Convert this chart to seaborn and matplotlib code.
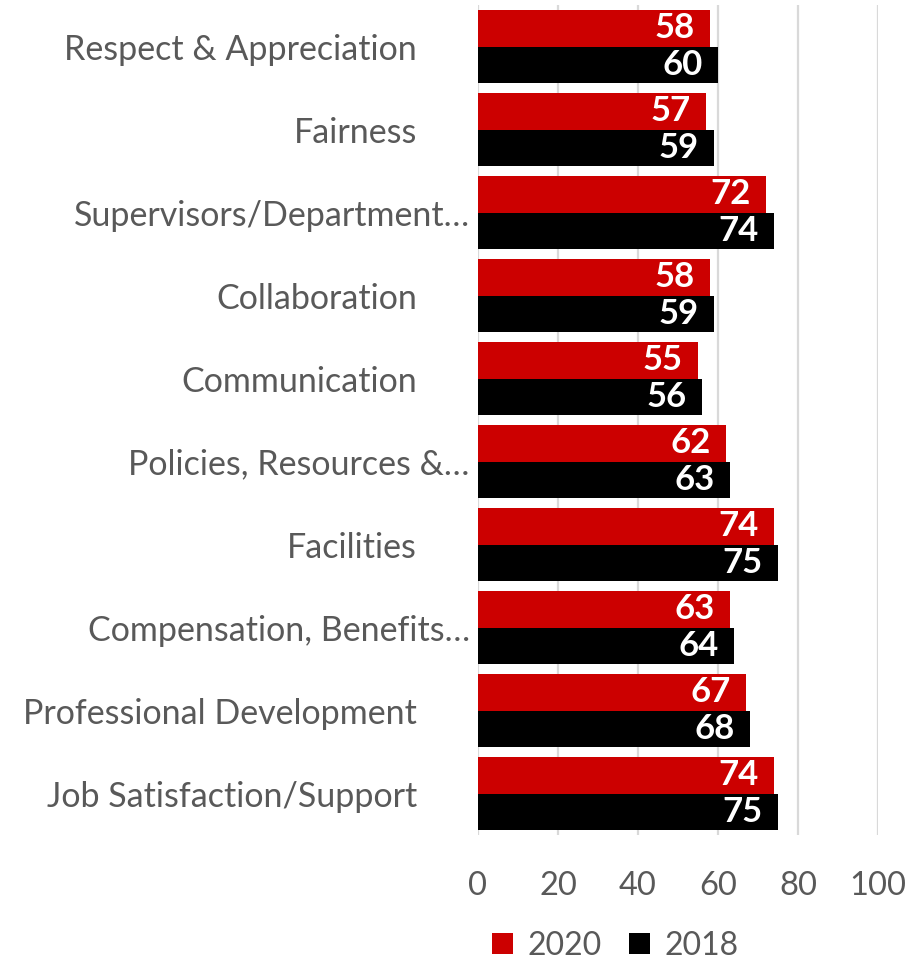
import seaborn as sns
import pandas as pd
import matplotlib.pyplot as plt
from matplotlib.transforms import ScaledTranslation

# chart data
categories = ["Respect & Appreciation", "Fairness", "Supervisors/Department…",
              "Collaboration", "Communication", "Policies, Resources &…",
              "Facilities", "Compensation, Benefits…", "Professional Development",
              "Job Satisfaction/Support"]
scores_2020 = [58, 57, 72, 58, 55, 62, 74, 63, 67, 74]
scores_2018 = [60, 59, 74, 59, 56, 63, 75, 64, 68, 75]
years = ["2020", "2018"]
ticks = [0, 20, 40, 60, 80, 100]

df = pd.DataFrame({
    "category": categories * 2,
    "score": scores_2020 + scores_2018,
    "year": ["2020"] * len(categories) + ["2018"] * len(categories),
})

sns.set_style("white")
plt.rcParams['font.family'] = ['Lato', 'DejaVu Sans']

fig = plt.figure(figsize=(9.22, 9.65), dpi=100)
ax = fig.add_axes([0.5184, 0.1347, 0.4338, 0.8601])

sns.barplot(data=df, y="category", x="score", hue="year", hue_order=years,
            order=categories, palette=["#CC0000", "#000000"], orient="h",
            width=0.875, saturation=1, errorbar=None, linewidth=0, ax=ax)

# value labels inside the bar ends
for cont in ax.containers:
    for p in cont.patches:
        w = p.get_width()
        ax.annotate(f"{w:.0f}", (w, p.get_y() + p.get_height() / 2),
                    xytext=(-11, 0), textcoords="offset points",
                    ha="right", va="center", color="white",
                    fontsize=25, fontweight="bold")

ax.set_xlim(0, 100)
ax.set_ylim(9.5, -0.5)
ax.set_xticks(ticks)
ax.set_xlabel("")
ax.set_ylabel("")
ax.xaxis.grid(True, color="#D9D9D9", linewidth=1.6)
ax.set_axisbelow(True)
for s in ax.spines.values():
    s.set_visible(False)
ax.tick_params(axis="y", length=0, pad=44, labelsize=24.5, labelcolor="#595959")
ax.tick_params(axis="x", length=0, pad=26, labelsize=23.5, labelcolor="#595959")

# truncated labels sit closer to the axis, like in the original
shift = ScaledTranslation(0.53, 0, fig.dpi_scale_trans)
for lbl in ax.get_yticklabels():
    if lbl.get_text().endswith("…"):
        lbl.set_transform(lbl.get_transform() + shift)

handles, labels = ax.get_legend_handles_labels()
ax.get_legend().remove()
fig.legend(handles, labels, loc="center", bbox_to_anchor=(0.667, 0.02),
           ncol=2, frameon=False, fontsize=23, labelcolor="#595959",
           handlelength=0.66, handleheight=0.66, handletextpad=0.45,
           columnspacing=0.85, borderpad=0.1)

plt.savefig("out.png", dpi=100)
